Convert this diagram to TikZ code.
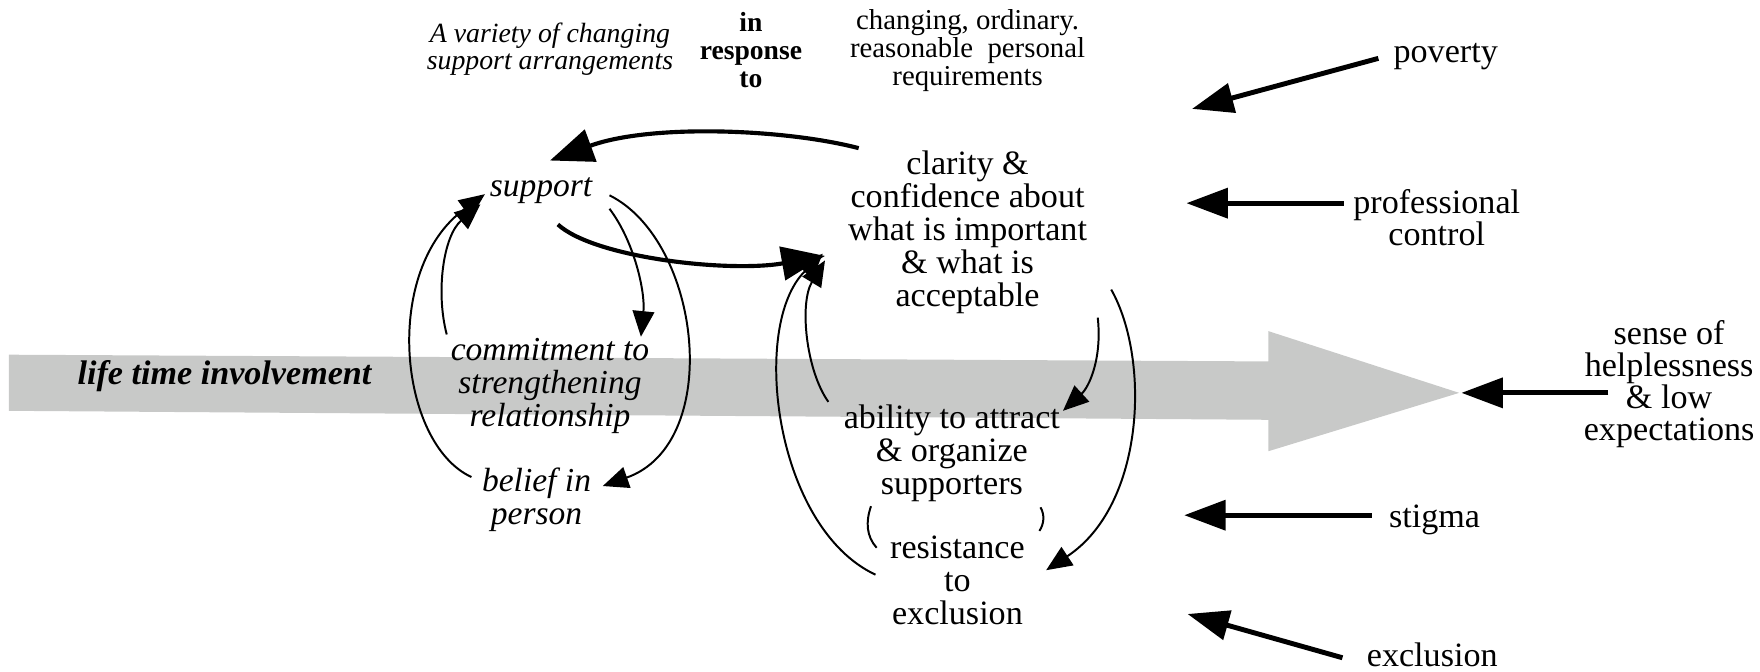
\documentclass[tikz,border=0pt]{standalone}
\usepackage{fontspec}
\setmainfont{Liberation Serif}
\usetikzlibrary{positioning,arrows.meta,calc}
\definecolor{bandgray}{RGB}{200,201,200}
\tikzset{
  txt/.style={align=center,inner sep=0pt,font=\fontsize{17.3}{16.75}\selectfont},
  txtit/.style={txt,font=\fontsize{17}{16.75}\selectfont\itshape},
  side/.style={txt,font=\fontsize{17.3}{16.3}\selectfont},
  small/.style={txt,font=\fontsize{14.6}{14.2}\selectfont},
  smallit/.style={txt,font=\fontsize{14.1}{13.6}\selectfont\itshape},
  smallbf/.style={txt,font=\fontsize{14}{14.2}\selectfont\bfseries},
  bandlabel/.style={txt,font=\fontsize{17.3}{16.75}\selectfont\bfseries\itshape},
  thinline/.style={line width=1pt},
  thinarrow/.style={thinline,-{Triangle[length=13pt,width=11pt]}},
  thickarrow/.style={line width=2.1pt,-{Triangle[length=22pt,width=17pt]}},
  pusharrow/.style={line width=2.5pt,-{Triangle[length=21pt,width=15pt]}}
}
\begin{document}
\begin{tikzpicture}[x=0.02cm,y=-0.02cm]
  \useasboundingbox (0,0) rectangle (1568,598);

  % the life time band
  \fill[bandgray] (8,316) -- (1130,322) -- (1130,295) -- (1300,350)
    -- (1130,402) -- (1130,374) -- (8,366) -- cycle;
  \coordinate (bandtip) at (1302,350);
  \node[bandlabel] (life) at (200,335) {life time involvement};

  \node[smallit] (variety) at (490,44) {A variety of changing\\support arrangements};
  \node[smallbf] (inresp) at (669,45) {in\\response\\to};
  \node[small] (needs) at (862,45) {changing, ordinary.\\reasonable\ \ personal\\requirements};

  \node[txt] (clar) at (862,207) {clarity \&\\confidence about\\what is important\\\& what is\\acceptable};
  \node[txt] (abil) at (848,404) {ability to attract\\\& organize\\supporters};
  \node[txt] (resist) at (853,517) {resistance\\to\\exclusion};

  \node[txtit] (supp) at (482,170) {support};
  \node[txtit] (commit) at (490,344) {commitment to\\strengthening\\relationship};
  \node[txtit] (belief) at (478,445) {belief in\\person};

  \node[side] (poverty) at (1288,50) {poverty};
  \node[side] (prof) at (1280,194) {professional\\control};
  \node[side] (sense) at (1487,342) {sense of\\helplessness\\\& low\\expectations};
  \node[side] (stigma) at (1278,463) {stigma};
  \node[side] (excl) at (1276,583) {exclusion};

  % left loop
  \draw[thickarrow] ($(clar)+(-97,-75)$) .. controls (700,115) and (580,110) .. ($(supp)+(8,-27)$);
  \draw[thickarrow] ($(supp)+(15,30)$) .. controls (530,230) and (650,243) .. ($(clar)+(-127,21)$);
  \draw[thinarrow] ($(supp)+(61,4)$) .. controls (625,215) and (645,395) .. ($(belief)+(59,-12)$);
  \draw[thinarrow] ($(supp)+(61,16)$) .. controls (565,215) and (575,260) .. ($(commit)+(81,-44)$);
  \draw[thinarrow] ($(belief)+(-58,-20)$) .. controls (355,395) and (340,240) .. ($(supp)+(-50,3)$);
  \draw[thinarrow] ($(commit)+(-92,-46)$) .. controls (388,260) and (395,210) .. ($(supp)+(-54,12)$);

  % middle loop
  \draw[thinarrow] ($(resist)+(-73,-5)$) .. controls (690,470) and (668,290) .. ($(clar)+(-129,19)$);
  \draw[thinarrow] ($(abil)+(-110,-46)$) .. controls (718,330) and (712,270) .. ($(clar)+(-127,25)$);
  \draw[thinarrow] ($(clar)+(116,76)$) .. controls (982,320) and (970,345) .. ($(abil)+(99,-38)$);
  \draw[thinarrow] ($(clar)+(128,51)$) .. controls (1025,320) and (1020,450) .. ($(resist)+(79,-9)$);
  \draw[thinline] ($(abil)+(-72,47)$) .. controls ($(abil)+(-77,61)$) and ($(abil)+(-76,74)$) .. ($(abil)+(-67,84)$);
  \draw[thinline] ($(abil)+(79,48)$) .. controls ($(abil)+(83,55)$) and ($(abil)+(82,63)$) .. ($(abil)+(78,69)$);

  % pressures from outside
  \coordinate (povtip) at (1062,97);
  \coordinate (proftip) at (1057,181);
  \coordinate (stigtip) at (1055,459);
  \coordinate (excltip) at (1058,547);
  \draw[pusharrow] ($(poverty)+(-60,2)$) -- (povtip);
  \draw[pusharrow] ($(prof)+(-83,-13)$) -- (proftip);
  \draw[pusharrow] ($(sense)+(-54,8)$) -- (bandtip);
  \draw[pusharrow] ($(stigma)+(-56,-4)$) -- (stigtip);
  \draw[pusharrow] ($(excl)+(-80,3)$) -- (excltip);
\end{tikzpicture}
\end{document}
